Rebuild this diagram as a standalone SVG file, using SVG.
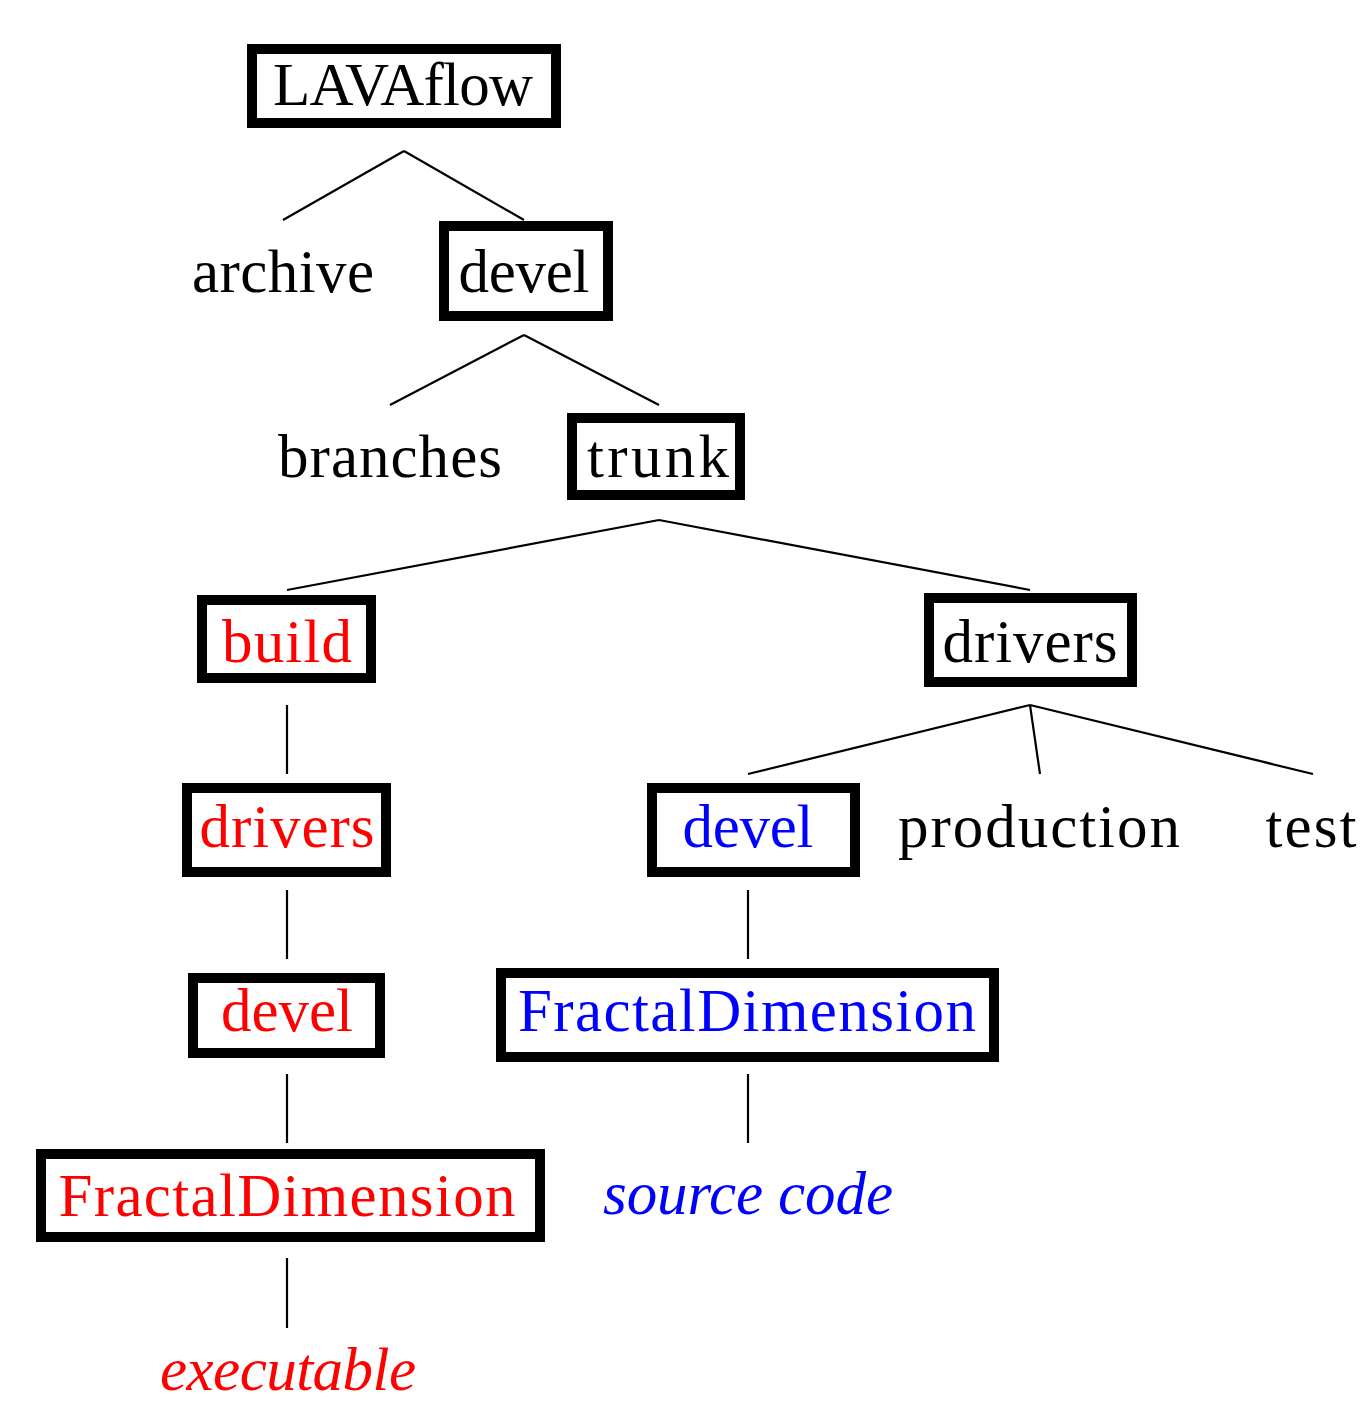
<svg xmlns="http://www.w3.org/2000/svg" width="1363" height="1401" viewBox="0 0 1363 1401">
<style>
.box{fill:#fff;stroke:#000;stroke-width:10}
.t{font-family:"Liberation Serif","Times New Roman",serif;font-size:61px;text-anchor:middle;fill:#000}
.r{fill:#f00}
.b{fill:#00f}
.i{font-style:italic}
.c{stroke:#000;stroke-width:2.2;fill:none;stroke-linecap:butt}
</style>
<rect width="1363" height="1401" fill="#fff"/>
<g id="connectors" class="c">
<path d="M404,151 L283,220 M404,151 L524,220"/>
<path d="M524,335 L390,405 M524,335 L659,405"/>
<path d="M659,520 L287,590 M659,520 L1030,590"/>
<path d="M287,705 L287,774"/>
<path d="M1030,705 L748,774 M1030,705 L1040,774 M1030,705 L1313,774"/>
<path d="M287,890 L287,959"/>
<path d="M748,890 L748,959"/>
<path d="M287,1074 L287,1143"/>
<path d="M748,1074 L748,1143"/>
<path d="M287,1258 L287,1328"/>
</g>
<g id="lavaflow"><rect class="box" x="252" y="49" width="304" height="74"/><text class="t" x="403" y="105" textLength="260">LAVAflow</text></g>
<g id="archive"><text class="t" x="283" y="292" textLength="182">archive</text></g>
<g id="devel-top"><rect class="box" x="444" y="226" width="164" height="90"/><text class="t" x="524" y="292" textLength="131">devel</text></g>
<g id="branches"><text class="t" x="390" y="477" textLength="224">branches</text></g>
<g id="trunk"><rect class="box" x="572" y="418" width="168" height="77"/><text class="t" x="658" y="477" textLength="142">trunk</text></g>
<g id="build"><rect class="box" x="202" y="600" width="169" height="78"/><text class="t r" x="287" y="662" textLength="130">build</text></g>
<g id="drivers-black"><rect class="box" x="929" y="598" width="203" height="84"/><text class="t" x="1030" y="662" textLength="175">drivers</text></g>
<g id="drivers-red"><rect class="box" x="187" y="788" width="199" height="84"/><text class="t r" x="287" y="847" textLength="175">drivers</text></g>
<g id="devel-blue"><rect class="box" x="652" y="788" width="203" height="84"/><text class="t b" x="748" y="847" textLength="131">devel</text></g>
<g id="production"><text class="t" x="1039" y="847" textLength="282">production</text></g>
<g id="test"><text class="t" x="1311" y="847" textLength="91">test</text></g>
<g id="devel-red"><rect class="box" x="193" y="978" width="187" height="75"/><text class="t r" x="287" y="1031" textLength="132">devel</text></g>
<g id="fd-blue"><rect class="box" x="501" y="973" width="493" height="84"/><text class="t b" x="747" y="1031" textLength="458">FractalDimension</text></g>
<g id="fd-red"><rect class="box" x="41" y="1154" width="499" height="83"/><text class="t r" x="287" y="1216" textLength="457">FractalDimension</text></g>
<g id="source-code"><text class="t b i" x="748" y="1214" textLength="290">source code</text></g>
<g id="executable"><text class="t r i" x="288" y="1390" textLength="256">executable</text></g>
</svg>
